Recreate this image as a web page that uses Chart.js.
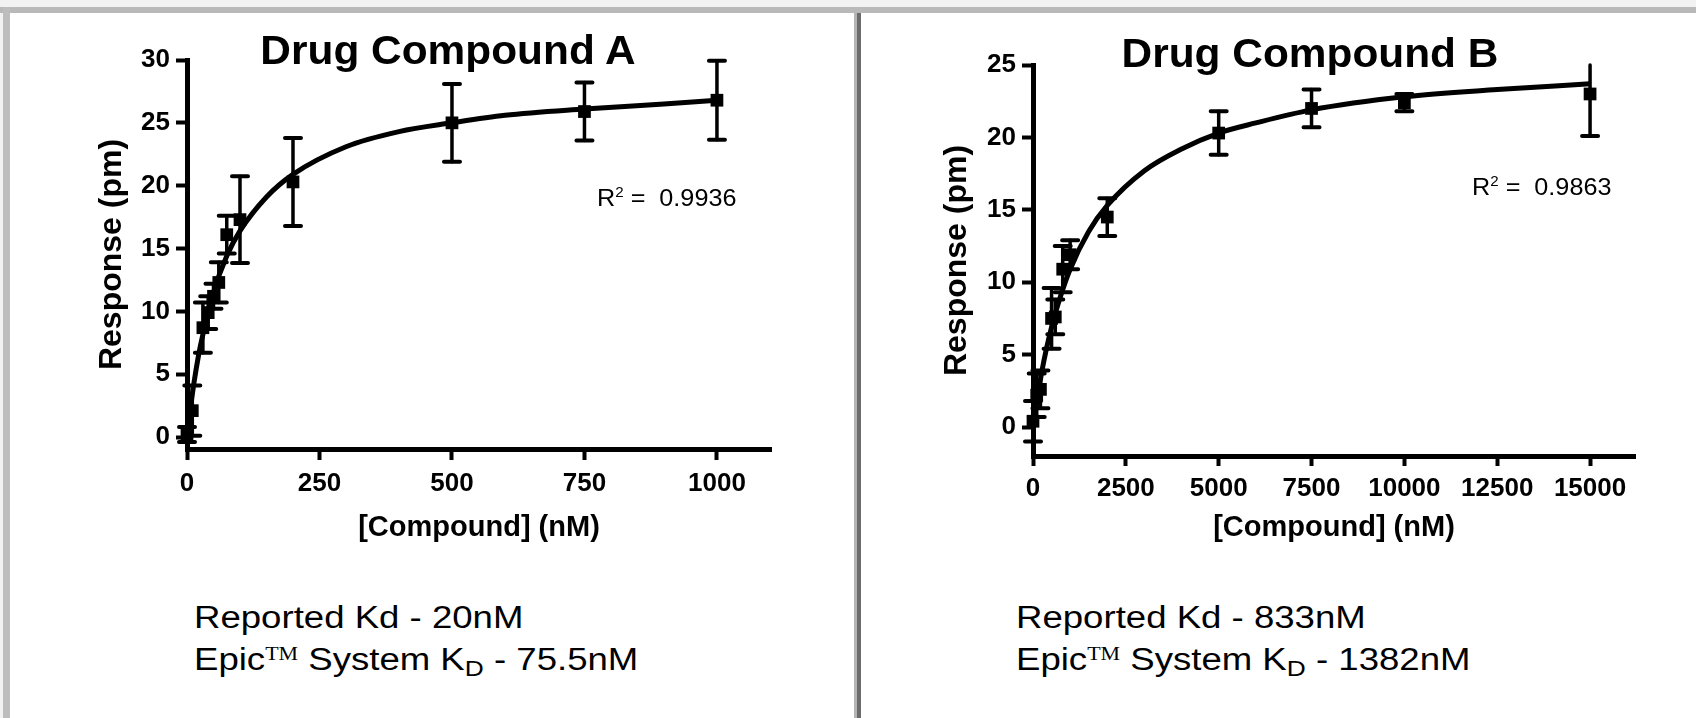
<!DOCTYPE html>
<html>
<head>
<meta charset="utf-8">
<script src="https://cdn.jsdelivr.net/npm/chart.js@4.4.1/dist/chart.umd.min.js"></script>
<style>
  body { margin: 0; width: 1696px; height: 718px; background: #f2f2f2; position: relative; overflow: hidden;
         font-family: 'Liberation Sans', Arial, sans-serif; color: #000; }
  .band { position: absolute; left: 0; top: 7px; width: 1696px; height: 6px; background: #b9b9b9; }
  .edge { position: absolute; left: 3px; top: 7px; width: 7px; height: 711px; background: #bdbdbd; }
  .panel { position: absolute; top: 13px; height: 705px; background: #fff; }
  .div1 { position: absolute; left: 854px; top: 13px; width: 3px; height: 705px; background: #b5b5b5; }
  .div2 { position: absolute; left: 857px; top: 13px; width: 4px; height: 705px; background: #6c6c6c; }
  canvas { position: absolute; top: 13px; }
  .title { position: absolute; width: 400px; text-align: center; font-weight: bold; font-size: 40px;
           line-height: 40px; white-space: nowrap; transform: scaleX(1.06); }
  .r2 { position: absolute; font-size: 24px; line-height: 24px; white-space: nowrap;
        transform: scaleX(1.05); transform-origin: left top; }
  .r2 sup { font-size: 0.6em; vertical-align: 0.6em; line-height: 0; }
  .note { position: absolute; font-size: 31px; line-height: 42px; white-space: nowrap;
          transform: scaleX(1.18); transform-origin: left top; }
  .note .tm { font-family: 'Liberation Serif', serif; font-size: 0.6em; vertical-align: 0.55em; line-height: 0; }
  .note sub { font-size: 0.72em; vertical-align: -0.28em; line-height: 0; }
</style>
</head>
<body>
<div class="band"></div>
<div class="edge"></div>
<div class="panel" style="left:10px;width:844px"></div>
<div class="panel" style="left:861px;width:835px"></div>
<div class="div1"></div>
<div class="div2"></div>

<canvas id="chartA" width="845" height="560" style="left:10px"></canvas>
<canvas id="chartB" width="835" height="560" style="left:861px"></canvas>

<div class="title" style="left:248px;top:30px">Drug Compound A</div>
<div class="title" style="left:1110px;top:33px">Drug Compound B</div>
<div class="r2" style="left:597px;top:186px">R<sup>2</sup> = &nbsp;0.9936</div>
<div class="r2" style="left:1472px;top:175px">R<sup>2</sup> = &nbsp;0.9863</div>
<div class="note" style="left:194px;top:597px">Reported Kd - 20nM<br>Epic<span class="tm">TM</span> System K<sub>D</sub> - 75.5nM</div>
<div class="note" style="left:1016px;top:597px">Reported Kd - 833nM<br>Epic<span class="tm">TM</span> System K<sub>D</sub> - 1382nM</div>

<script>
const concA = [0, 10, 30, 40, 50, 60, 75, 100, 200, 500, 750, 1000];
const respA = [0.2, 2.1, 8.7, 9.9, 11.2, 12.3, 16.1, 17.3, 20.3, 25.0, 25.9, 26.8];
const errA  = [0.6, 2.0, 2.0, 1.3, 1.0, 1.6, 1.5, 3.45, 3.5, 3.1, 2.3, 3.15];
const fitXA = [0, 10, 25, 50, 75, 100, 150, 200, 300, 400, 500, 600, 750, 900, 1000];
const fitYA = [0, 3.4, 7.2, 11.5, 14.4, 16.4, 19.1, 20.9, 23.1, 24.3, 25.0, 25.6, 26.1, 26.5, 26.8];
const ticksXA = [0, 250, 500, 750, 1000];
const ticksYA = [0, 5, 10, 15, 20, 25, 30];

// Drug Compound B
const concB = [0, 100, 200, 500, 600, 800, 1000, 2000, 5000, 7500, 10000, 15000];
const respB = [0.4, 2.2, 2.6, 7.5, 7.6, 10.9, 11.9, 14.5, 20.3, 22.0, 22.4, 23.0];
const errB  = [1.4, 1.5, 1.3, 2.1, 1.2, 1.6, 1.0, 1.3, 1.5, 1.3, 0.6, 2.9];
const fitXB = [0, 250, 500, 750, 1000, 1500, 2000, 3000, 4000, 5000, 6000, 7500, 10000, 12500, 15000];
const fitYB = [0, 4.0, 6.9, 9.1, 10.9, 13.5, 15.3, 17.7, 19.2, 20.3, 21.0, 21.9, 22.8, 23.3, 23.7];
const ticksXB = [0, 2500, 5000, 7500, 10000, 12500, 15000];
const ticksYB = [0, 5, 10, 15, 20, 25];

const xTitle = '[Compound] (nM)';
const yTitle = 'Response (pm)';

Chart.defaults.font.family = "'Liberation Sans', Arial, sans-serif";
Chart.defaults.color = '#000';

// vertical error bars with caps, drawn through the chart scales
const errorBars = {
    id: 'errorBars',
    afterDatasetsDraw(chart) {
        const ctx = chart.ctx;
        const xs = chart.scales.x, ys = chart.scales.y;
        const top = chart.chartArea.top;
        chart.data.datasets.forEach(ds => {
            if (!ds.errors) return;
            ctx.save();
            ctx.strokeStyle = '#000';
            ctx.lineCap = 'round';
            ds.data.forEach((p, i) => {
                const e = ds.errors[i];
                const px = xs.getPixelForValue(p.x);
                let hi = ys.getPixelForValue(p.y + e);
                const lo = ys.getPixelForValue(p.y - e);
                const clipped = hi < top;
                if (clipped) hi = top;
                ctx.lineWidth = 3.5;
                ctx.beginPath();
                ctx.moveTo(px, hi); ctx.lineTo(px, lo);
                ctx.stroke();
                ctx.lineWidth = 4;
                ctx.beginPath();
                if (!clipped) { ctx.moveTo(px - 8, hi); ctx.lineTo(px + 8, hi); }
                ctx.moveTo(px - 8, lo); ctx.lineTo(px + 8, lo);
                ctx.stroke();
            });
            ctx.restore();
        });
    }
};

function pairs(xs, ys) {
    return xs.map((x, i) => ({x: x, y: ys[i]}));
}

function drawChart(id, s) {
    return new Chart(document.getElementById(id), {
        type: 'scatter',
        data: {
            datasets: [
                {
                    type: 'line',
                    data: pairs(s.fitX, s.fitY),
                    borderColor: '#000',
                    borderWidth: 5,
                    pointRadius: 0,
                    cubicInterpolationMode: 'monotone',
                    fill: false,
                    clip: false,
                },
                {
                    data: pairs(s.x, s.y),
                    errors: s.err,
                    pointStyle: 'rect',
                    pointRadius: 9,
                    backgroundColor: '#000',
                    borderColor: '#000',
                    borderWidth: 0,
                    clip: false,
                },
            ],
        },
        options: {
            responsive: false,
            animation: false,
            layout: { padding: s.pad },
            plugins: {
                legend: { display: false },
                title: { display: false },
                tooltip: { enabled: false },
            },
            scales: {
                x: {
                    type: 'linear',
                    min: s.xMin, max: s.xMax,
                    afterBuildTicks: sc => { sc.ticks = s.xTicks.map(v => ({value: v})); },
                    afterFit: sc => { sc.height = s.xH; },
                    border: { display: true, color: '#000', width: 5 },
                    grid: { drawOnChartArea: false, drawTicks: true, tickLength: s.xTick,
                            tickWidth: 4, tickColor: '#000' },
                    ticks: { autoSkip: false, maxRotation: 0, padding: s.xPad, color: '#000',
                             callback: v => String(v), font: { size: 26, weight: 'bold' } },
                    title: { display: true, text: xTitle, color: '#000',
                             font: { size: 29, weight: 'bold' } },
                },
                y: {
                    type: 'linear',
                    min: s.yMin, max: s.yMax,
                    afterBuildTicks: sc => { sc.ticks = s.yTicks.map(v => ({value: v})); },
                    afterFit: sc => { sc.width = s.yW; },
                    border: { display: true, color: '#000', width: 5 },
                    grid: { drawOnChartArea: false, drawTicks: true, tickLength: 11,
                            tickWidth: 4, tickColor: '#000' },
                    ticks: { padding: s.yPad, color: '#000', callback: v => String(v),
                             font: { size: 26, weight: 'bold' } },
                    title: { display: true, text: yTitle, color: '#000',
                             font: { size: 32, weight: 'bold' } },
                },
            },
        },
        plugins: [errorBars],
    });
}

drawChart('chartA', {
    x: concA, y: respA, err: errA, fitX: fitXA, fitY: fitYA,
    xTicks: ticksXA, yTicks: ticksYA,
    xMin: 0, xMax: 1102, yMin: -0.95, yMax: 30,
    pad: { left: 79, right: 84, top: 47, bottom: 24 },
    yW: 98, xH: 100, xTick: 11, xPad: 8, yPad: 6,
});

drawChart('chartB', {
    x: concB, y: respB, err: errB, fitX: fitXB, fitY: fitYB,
    xTicks: ticksXB, yTicks: ticksYB,
    xMin: 0, xMax: 16210, yMin: -2.0, yMax: 25,
    pad: { left: 73, right: 61, top: 52, bottom: 24 },
    yW: 99, xH: 93, xTick: 10, xPad: 7, yPad: 6,
});
</script>
</body>
</html>
